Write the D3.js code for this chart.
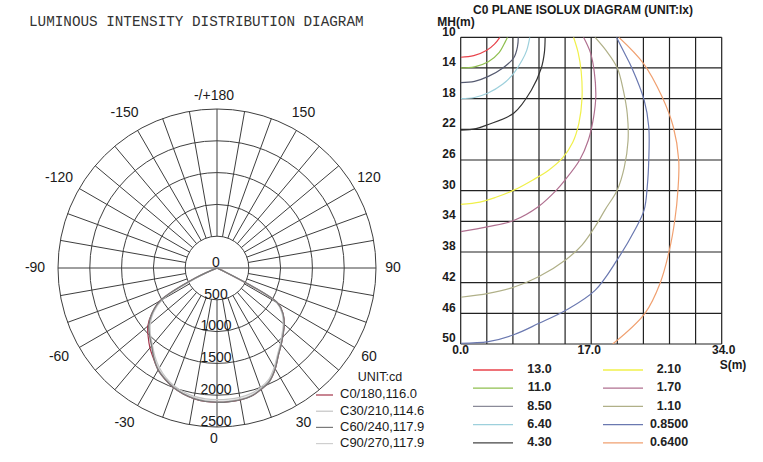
<!DOCTYPE html>
<html><head><meta charset="utf-8">
<script src="https://cdn.jsdelivr.net/npm/d3@7"></script>
<style>
html,body{margin:0;padding:0;background:#fff;}
svg{display:block;}
</style></head>
<body>
<svg id="chart" width="763" height="462"></svg>
<script>
// ---------- DATA: polar luminous intensity ----------
const gammaDeg = [-90,-85,-80,-75,-70,-65,-60,-55,-50,-45,-40,-35,-30,-25,-20,-15,-10,-5,0,5,10,15,20,25,30,35,40,45,50,55,60,65,70,75,80,85,90];
const intC0  = [0,0,0,0,0,380,1030,1250,1420,1530,1640,1740,1850,1930,2000,2050,2085,2105,2110,2110,2105,2085,2030,1960,1830,1680,1570,1470,1380,1270,1100,60,0,0,0,0,0];
const intC30 = [0,0,0,0,0,300,990,1220,1370,1480,1580,1700,1810,1900,1970,2020,2050,2065,2070,2070,2065,2045,2000,1930,1800,1660,1550,1450,1360,1250,1080,50,0,0,0,0,0];
const intC60 = [0,0,0,0,0,380,1030,1250,1400,1500,1600,1730,1850,1930,2000,2050,2085,2105,2110,2110,2105,2085,2030,1960,1830,1680,1570,1470,1380,1270,1100,60,0,0,0,0,0];
const intC90 = [0,0,0,0,0,350,1010,1240,1390,1490,1590,1720,1830,1920,1990,2040,2070,2090,2095,2095,2090,2070,2020,1950,1820,1670,1560,1460,1370,1260,1090,55,0,0,0,0,0];
const polarSeriesNames = ["C0/180,116.0","C30/210,114.6","C60/240,117.9","C90/270,117.9"];
const polarSeriesColors = ["#a3344a","#c4c4c4","#7a7a7a","#cfcfcf"];
const ringValues = [500,1000,1500,2000,2500];
const ringLabels = ["0","500","1000","1500","2000","2500"];
const angleLabelValues = [0,30,60,90,120,150,180,-150,-120,-90,-60,-30];
const angleLabelTexts  = ["0","30","60","90","120","150","-/+180","-150","-120","-90","-60","-30"];

// ---------- DATA: isolux ----------
const isoLevels = ["13.0","11.0","8.50","6.40","4.30","2.10","1.70","1.10","0.8500","0.6400"];
const isoColors = ["#e8434b","#8fbf4f","#555a70","#9dd0dc","#333333","#f0f04a","#b07090","#b0b088","#6a78b0","#f0a070"];
const isoLegendColors = ["#e8434b","#8fbf4f","#8a8a98","#9dd0dc","#444444","#f0f04a","#b07090","#b0b088","#6a78b0","#f0a070"];
const lux13  = [[0,12.6],[1.7,12.4],[3.4,11.7],[4.4,10.9],[5.1,10]];
const lux11  = [[0,14.0],[1.8,13.85],[3.6,13.2],[5.0,12.0],[5.8,10.6],[6.1,10]];
const lux850 = [[0,15.9],[1.8,15.75],[3.6,15.1],[5.5,14.0],[6.9,12.7],[7.4,11.2],[7.5,10]];
const lux640 = [[0,18.0],[1.8,17.85],[3.5,17.3],[5.5,16.1],[6.9,14.7],[8.0,13.0],[8.6,11.7],[9.0,10]];
const lux430 = [[0,22.1],[2.0,21.9],[3.5,21.4],[6.9,19.9],[9.2,16.9],[10.5,14.0],[10.9,12.0],[11.0,10]];
const lux210 = [[0,31.8],[2.5,31.5],[4.5,30.9],[7.0,29.9],[9.4,28.6],[11.5,27.3],[13.3,25.7],[14.6,23.7],[15.4,21.2],[15.8,18.0],[15.7,14.5],[15.3,12.0],[14.7,10]];
const lux170 = [[0,35.35],[3.6,34.7],[6.9,33.9],[10.1,32.1],[12.5,29.9],[13.6,28.6],[15.5,26.0],[16.6,23.5],[17.3,20.5],[17.6,17.7],[17.4,14.5],[16.9,12.0],[16.0,10]];
const lux110 = [[0,43.9],[3.6,43.4],[6.9,42.6],[10.2,41.2],[13.7,39.0],[15.8,37.1],[17.5,34.7],[18.8,32.5],[20.4,29.9],[21.3,27.0],[21.8,23.5],[21.7,20.0],[21.2,17.0],[20.4,14.0],[19.0,11.8],[17.5,10]];
const lux085 = [[0,49.9],[3.6,49.7],[6.9,48.8],[10.2,47.3],[13.7,45.6],[17.5,43.0],[20.4,39.0],[22.7,35.1],[23.9,32.5],[24.3,29.5],[24.5,26.0],[24.5,21.7],[23.9,18.2],[22.3,14.0],[21.2,11.8],[20.3,10]];
const lux064 = [[19.8,50],[24.0,46],[26.0,42],[27.2,37.7],[27.9,33.8],[28.3,29.9],[28.4,26],[27.7,21.7],[26.2,17.7],[23.8,13.4],[20.6,10]];
const yTicks = [10,14,18,22,26,30,34,38,42,46,50];
const xGrid = [0,3.4,6.8,10.2,13.6,17,20.4,23.8,27.2,30.6,34];
const xTickLabels = [[0,"0.0"],[17,"17.0"],[34,"34.0"]];

const svg = d3.select("#chart");
const SANS = "'Liberation Sans', Arial, Helvetica, sans-serif";

// ================= LEFT: polar =================
svg.append("text").attr("x",29).attr("y",26)
  .attr("font-family","'Liberation Mono', 'DejaVu Sans Mono', monospace")
  .attr("font-size",14.3).attr("fill","#333")
  .text("LUMINOUS INTENSITY DISTRIBUTION DIAGRAM");

const cx = 217, cy = 268;
const r = d3.scaleLinear().domain([0,2500]).range([0,159]);
const gP = svg.append("g").attr("transform",`translate(${cx},${cy})`);
const gridCol = "#3e3e3e";

ringValues.forEach(v=>{
  gP.append("circle").attr("r",r(v)).attr("fill","none").attr("stroke",gridCol).attr("stroke-width",1);
});
d3.range(0,360,10).forEach(a=>{
  const t = a*Math.PI/180;
  const r0 = (a===90||a===270) ? 0 : r(500);
  gP.append("line")
    .attr("x1",r0*Math.sin(t)).attr("y1",r0*Math.cos(t))
    .attr("x2",r(2500)*Math.sin(t)).attr("y2",r(2500)*Math.cos(t))
    .attr("stroke",gridCol).attr("stroke-width",1);
});

// curves
const radial = d3.lineRadial()
  .angle(d=>Math.PI - d[0]*Math.PI/180)
  .radius(d=>r(d[1]))
  .curve(d3.curveCatmullRom.alpha(0.5));
const polarSeries = [intC0,intC30,intC90,intC60];
const polarColIdx = [0,1,3,2];
polarSeries.forEach((arr,i)=>{
  gP.append("path")
    .attr("d", radial(gammaDeg.map((g,k)=>[g,arr[k]])))
    .attr("fill","none").attr("stroke",polarSeriesColors[polarColIdx[i]])
    .attr("stroke-width", polarColIdx[i]===2 ? 1.4 : 1.2);
});

// ring labels
ringLabels.forEach((t,i)=>{
  const v = i*500;
  gP.append("text").attr("x",-1).attr("y",r(v)-5)
    .attr("text-anchor","middle").attr("dominant-baseline","middle")
    .attr("font-family",SANS).attr("font-size",14).attr("fill","#1a1a1a")
    .text(t);
});
// angle labels
angleLabelValues.forEach((a,i)=>{
  const t = a*Math.PI/180;
  const R = a===0 ? 171 : (a===180 ? 172 : 179);
  gP.append("text")
    .attr("x", R*Math.sin(t) - 3).attr("y", R*Math.cos(t))
    .attr("text-anchor","middle").attr("dominant-baseline","middle")
    .attr("font-family",SANS).attr("font-size",14).attr("fill","#1a1a1a")
    .text(angleLabelTexts[i]);
});

// polar legend
svg.append("text").attr("x",380).attr("y",378).attr("text-anchor","middle")
  .attr("dominant-baseline","middle").attr("font-family",SANS).attr("font-size",12.5)
  .attr("fill","#1a1a1a").text("UNIT:cd");
polarSeriesNames.forEach((n,i)=>{
  const y = 395 + i*16.2;
  svg.append("line").attr("x1",316).attr("x2",333).attr("y1",y).attr("y2",y)
    .attr("stroke",polarSeriesColors[i]).attr("stroke-width",1.2);
  svg.append("text").attr("x",340).attr("y",y).attr("dominant-baseline","middle")
    .attr("font-family",SANS).attr("font-size",13).attr("fill","#1a1a1a").text(n);
});

// ================= RIGHT: isolux =================
const x = d3.scaleLinear().domain([0,34]).range([460.7,721.7]);
const y = d3.scaleLinear().domain([10,50]).range([37.3,344]);

svg.append("text").attr("x",583).attr("y",14).attr("text-anchor","middle")
  .attr("font-family",SANS).attr("font-weight","bold").attr("font-size",12)
  .attr("fill","#1a1a1a").text("C0 PLANE ISOLUX DIAGRAM (UNIT:lx)");

const gI = svg.append("g");
xGrid.forEach(v=>{
  gI.append("line").attr("x1",x(v)).attr("x2",x(v)).attr("y1",y(10)).attr("y2",y(50))
    .attr("stroke","#222").attr("stroke-width",1.2);
});
yTicks.forEach(v=>{
  gI.append("line").attr("x1",x(0)).attr("x2",x(34)).attr("y1",y(v)).attr("y2",y(v))
    .attr("stroke","#222").attr("stroke-width",1.2);
  svg.append("text").attr("x",449).attr("y",y(v)-(v===10?4:5))
    .attr("text-anchor","middle").attr("dominant-baseline","middle")
    .attr("font-family",SANS).attr("font-weight","bold").attr("font-size",12)
    .attr("fill","#1a1a1a").text(v);
});
svg.append("text").attr("x",456).attr("y",23).attr("text-anchor","middle")
  .attr("dominant-baseline","middle").attr("font-family",SANS).attr("font-weight","bold")
  .attr("font-size",12).attr("fill","#1a1a1a").text("MH(m)");
xTickLabels.forEach(([v,t])=>{
  svg.append("text").attr("x",x(v)-(v===17?2:(v===34?-2:0))).attr("y",351)
    .attr("text-anchor","middle").attr("dominant-baseline","middle")
    .attr("font-family",SANS).attr("font-weight","bold").attr("font-size",12)
    .attr("fill","#1a1a1a").text(t);
});
svg.append("text").attr("x",733).attr("y",366).attr("text-anchor","middle")
  .attr("dominant-baseline","middle").attr("font-family",SANS).attr("font-weight","bold")
  .attr("font-size",12).attr("fill","#1a1a1a").text("S(m)");

svg.append("clipPath").attr("id","plotClip").append("rect")
  .attr("x",x(0)).attr("y",y(10)).attr("width",x(34)-x(0)).attr("height",y(50)-y(10));
const isoLine = d3.line().x(d=>x(d[0])).y(d=>y(d[1])).curve(d3.curveCatmullRom.alpha(0.5));
const isoData = [lux13,lux11,lux850,lux640,lux430,lux210,lux170,lux110,lux085,lux064];
const gC = svg.append("g").attr("clip-path","url(#plotClip)");
isoData.forEach((pts,i)=>{
  gC.append("path").attr("d",isoLine(pts)).attr("fill","none")
    .attr("stroke",isoColors[i]).attr("stroke-width",1.2);
});

// isolux legend
isoLevels.forEach((lv,i)=>{
  const col = Math.floor(i/5), row = i%5;
  const yy = 370 + row*18.2;
  const lx0 = col===0 ? 473 : 603;
  const tx = col===0 ? 539.5 : 669;
  svg.append("line").attr("x1",lx0).attr("x2",lx0+40).attr("y1",yy).attr("y2",yy)
    .attr("stroke",isoLegendColors[i]).attr("stroke-width",1.3);
  svg.append("text").attr("x",tx).attr("y",yy).attr("text-anchor","middle")
    .attr("dominant-baseline","middle").attr("font-family",SANS).attr("font-weight","bold")
    .attr("font-size",12.5).attr("fill","#222").text(lv);
});
</script>
</body></html>
